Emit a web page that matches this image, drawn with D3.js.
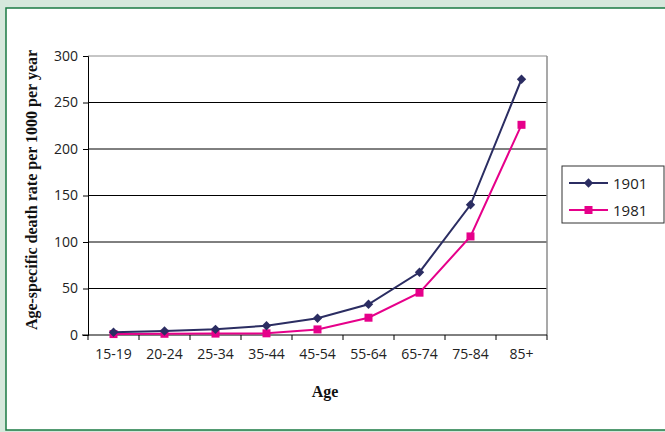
<!DOCTYPE html>
<html><head><meta charset="utf-8">
<script src="https://cdn.jsdelivr.net/npm/d3@7"></script>
<style>body{margin:0;background:#d6e8dc;} svg{display:block;}</style>
</head><body>
<svg id="c" width="665" height="432"></svg>
<script>
const categories = ["15-19","20-24","25-34","35-44","45-54","55-64","65-74","75-84","85+"];
const series1901 = [2.9, 4.3, 6.1, 10, 18, 33, 67.5, 140, 275];
const series1981 = [1.0, 1.3, 1.5, 1.8, 6, 18.6, 45.5, 106, 226];
const yTicks = [0, 50, 100, 150, 200, 250, 300];
const seriesNames = ["1901", "1981"];

const svg = d3.select("#c");
svg.append("rect").attr("x",0).attr("y",0).attr("width",665).attr("height",432).attr("fill","#d6e8dc");
svg.append("rect").attr("x",6).attr("y",8).attr("width",665).attr("height",422)
  .attr("fill","#fff").attr("stroke","#1b7a43").attr("stroke-width",1.5);

const L=88, R=547, T=56, B=335;
const x = d3.scaleBand().domain(categories).range([L,R]);
const y = d3.scaleLinear().domain([0,300]).range([B,T]);
const tickFont = "'Open Sans', 'DejaVu Sans', sans-serif";

// gridlines
svg.append("g").selectAll("line").data(yTicks.filter(d=>d>0)).join("line")
  .attr("x1",L).attr("x2",R).attr("y1",d=>y(d)).attr("y2",d=>y(d))
  .attr("stroke", d=>d===300?"#8c8c8c":"#000").attr("stroke-width",1);
// right border
svg.append("line").attr("x1",R).attr("x2",R).attr("y1",T).attr("y2",B).attr("stroke","#8c8c8c").attr("stroke-width",1.5);

// y axis
const ya = svg.append("g").attr("transform",`translate(${L},0)`)
  .call(d3.axisLeft(y).tickValues(yTicks).tickSize(5).tickPadding(5));
ya.select(".domain").attr("stroke","#000");
ya.selectAll("text").attr("font-family",tickFont).attr("font-size",14).attr("fill","#222");

// x axis
const xa = svg.append("g").attr("transform",`translate(0,${B})`);
xa.append("line").attr("x1",L-6).attr("x2",R).attr("stroke","#000");
xa.selectAll("line.t").data(d3.range(categories.length+1)).join("line").attr("class","t")
  .attr("x1",i=>L+i*x.bandwidth()).attr("x2",i=>L+i*x.bandwidth()).attr("y1",0).attr("y2",5).attr("stroke","#000");
xa.selectAll("text").data(categories).join("text")
  .attr("x",d=>x(d)+x.bandwidth()/2).attr("y",24).attr("text-anchor","middle")
  .attr("font-family",tickFont).attr("font-size",14).attr("fill","#222").text(d=>d);

const cx = d=>x(d)+x.bandwidth()/2;
const line = d3.line().x((v,i)=>cx(categories[i])).y(v=>y(v));

// 1981
svg.append("path").datum(series1981).attr("d",line).attr("fill","none").attr("stroke","#e6008a").attr("stroke-width",2);
svg.append("g").selectAll("rect").data(series1981).join("rect")
  .attr("x",(v,i)=>cx(categories[i])-4).attr("y",v=>y(v)-4).attr("width",8).attr("height",8).attr("fill","#e6008a");
// 1901
svg.append("path").datum(series1901).attr("d",line).attr("fill","none").attr("stroke","#2b2d62").attr("stroke-width",2);
const diamond = d3.symbol().type(d3.symbolSquare).size(44);
svg.append("g").selectAll("path").data(series1901).join("path")
  .attr("transform",(v,i)=>`translate(${cx(categories[i])},${y(v)}) rotate(45)`).attr("d",diamond).attr("fill","#2b2d62");

// legend
const lg = svg.append("g");
lg.append("rect").attr("x",562).attr("y",166).attr("width",102).attr("height",57).attr("fill","#fff").attr("stroke","#333").attr("stroke-width",1);
const colors = ["#2b2d62","#e6008a"];
seriesNames.forEach((n,i)=>{
  const yy = 183 + i*27;
  lg.append("line").attr("x1",569).attr("x2",608).attr("y1",yy).attr("y2",yy).attr("stroke",colors[i]).attr("stroke-width",2);
  if(i===0) lg.append("path").attr("transform",`translate(588.5,${yy}) rotate(45)`).attr("d",diamond).attr("fill",colors[i]);
  else lg.append("rect").attr("x",584.5).attr("y",yy-4).attr("width",8).attr("height",8).attr("fill",colors[i]);
  lg.append("text").attr("x",613).attr("y",yy+5.5).attr("font-family",tickFont).attr("font-size",15).attr("fill","#222").text(n);
});

// axis titles
svg.append("text").attr("x",325).attr("y",397).attr("text-anchor","middle")
  .attr("font-family","'Liberation Serif', serif").attr("font-weight","bold").attr("font-size",16).attr("fill","#111").text("Age");
svg.append("text").attr("transform","translate(37,190) rotate(-90)").attr("text-anchor","middle")
  .attr("font-family","'Liberation Serif', serif").attr("font-weight","bold").attr("font-size",16).attr("fill","#111")
  .text("Age-specific death rate per 1000 per year");
</script>
</body></html>
